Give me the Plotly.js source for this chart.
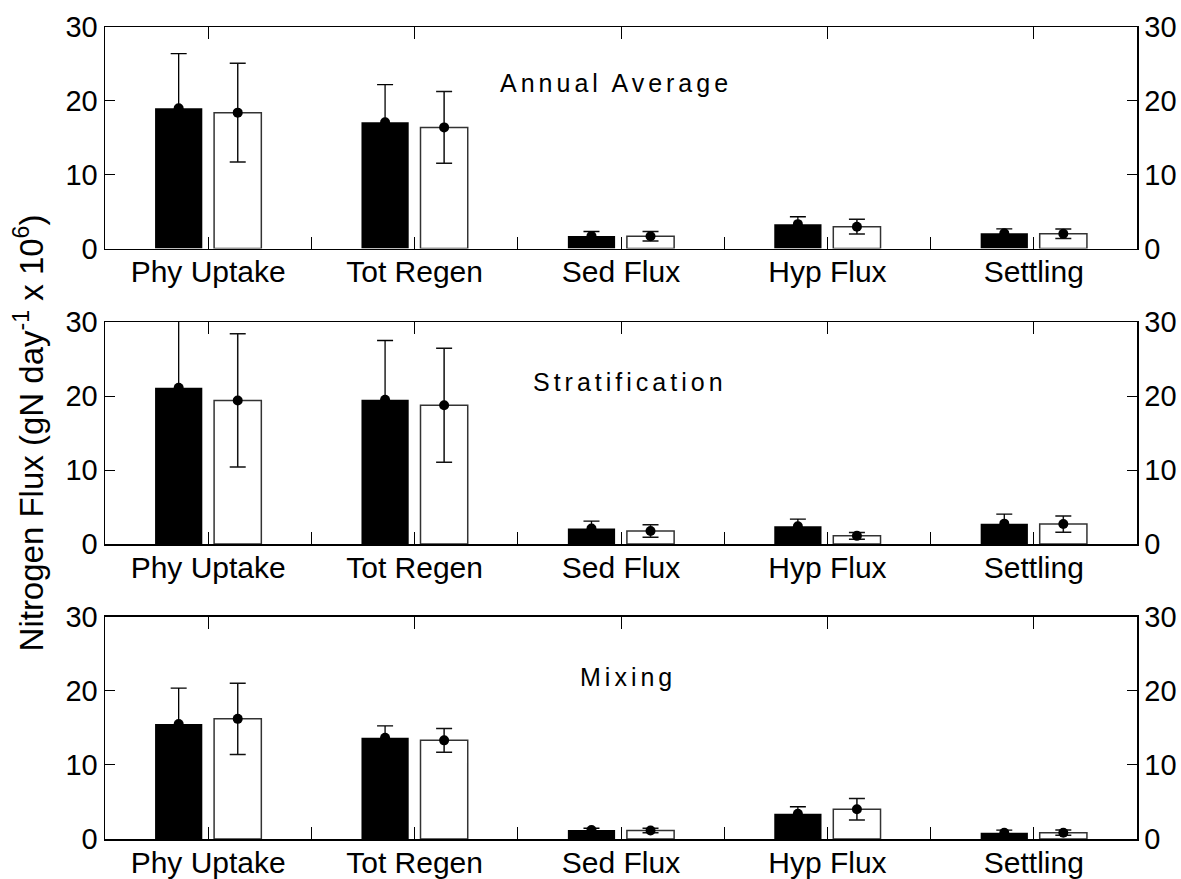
<!DOCTYPE html>
<html>
<head>
<meta charset="utf-8">
<script src="https://cdn.plot.ly/plotly-3.0.1.min.js"></script>
<style>
  html, body { margin: 0; padding: 0; background: #fff; }
  #chart { width: 1181px; height: 879px; }
  .annotation-text { letter-spacing: 4px; }
</style>
</head>
<body>
<div id="chart"></div>
<script>
// ---- data ----
const categories = ['Phy Uptake', 'Tot Regen', 'Sed Flux', 'Hyp Flux', 'Settling'];
const panelTitles = ['Annual Average', 'Stratification', 'Mixing'];
const yTickValues = [0, 10, 20, 30];

const annualBlack    = [19.0, 17.1, 1.7, 3.3, 2.05];
const annualBlackErr = [7.4, 5.1, 0.6, 1.0, 0.6];
const annualWhite    = [18.4, 16.4, 1.65, 2.95, 2.0];
const annualWhiteErr = [6.7, 4.85, 0.65, 1.0, 0.65];

const stratBlack     = [21.1, 19.5, 2.1, 2.4, 2.75];
const stratBlackErr  = [9.5, 8.0, 1.0, 0.95, 1.3];
const stratWhite     = [19.4, 18.75, 1.75, 1.1, 2.7];
const stratWhiteErr  = [9.0, 7.7, 0.85, 0.45, 1.1];

const mixBlack       = [15.5, 13.65, 1.2, 3.4, 0.85];
const mixBlackErr    = [4.85, 1.6, 0.25, 0.95, 0.35];
const mixWhite       = [16.2, 13.3, 1.15, 4.0, 0.85];
const mixWhiteErr    = [4.8, 1.6, 0.3, 1.45, 0.35];

const panels = [
  { black: annualBlack, blackErr: annualBlackErr, white: annualWhite, whiteErr: annualWhiteErr },
  { black: stratBlack,  blackErr: stratBlackErr,  white: stratWhite,  whiteErr: stratWhiteErr },
  { black: mixBlack,    blackErr: mixBlackErr,    white: mixWhite,    whiteErr: mixWhiteErr }
];

// ---- layout geometry ----
const W = 1181, H = 879;
const margin = { l: 105, r: 44, t: 27, b: 40 };
const plotH = H - margin.t - margin.b;
const panelPx = [[27, 248.5], [322, 544], [616.5, 839]];
const labelPos = [[616, 83], [630, 382], [628, 677]];
const plotW = W - margin.l - margin.r;

const FONT = 'Liberation Sans, Arial, Helvetica, sans-serif';
const traces = [];
const layout = {
  width: W, height: H,
  margin: margin,
  paper_bgcolor: '#fff', plot_bgcolor: '#fff',
  showlegend: false,
  barmode: 'group',
  bargap: 0.428,
  bargroupgap: 0.2,
  scattermode: 'group',
  scattergap: 0.428,
  font: { family: FONT, color: '#000' },
  annotations: []
};

panels.forEach((p, i) => {
  const n = 2 * i + 1;           // main x / left y index
  const xm = n === 1 ? 'x' : 'x' + n;
  const xo = 'x' + (n + 1);
  const yl = n === 1 ? 'y' : 'y' + n;
  const yr = 'y' + (n + 1);
  const keyX = n === 1 ? 'xaxis' : 'xaxis' + n;
  const keyXo = 'xaxis' + (n + 1);
  const keyY = n === 1 ? 'yaxis' : 'yaxis' + n;
  const keyYr = 'yaxis' + (n + 1);
  const dom = [(H - margin.b - panelPx[i][1]) / plotH, (H - margin.b - panelPx[i][0]) / plotH];

  traces.push({
    type: 'bar', x: categories, y: p.black, xaxis: xm, yaxis: yl,
    offsetgroup: 'a', marker: { color: '#000', line: { color: '#000', width: 0 } },
    hoverinfo: 'skip'
  });
  traces.push({
    type: 'bar', x: categories, y: p.white, xaxis: xm, yaxis: yl,
    offsetgroup: 'b', marker: { color: '#fff', line: { color: '#333', width: 1.5 } },
    hoverinfo: 'skip'
  });
  traces.push({
    type: 'scatter', mode: 'markers', x: categories, y: p.black, xaxis: xo, yaxis: yr,
    offsetgroup: 'a', marker: { color: '#000', size: 10 },
    error_y: { type: 'data', array: p.blackErr, color: '#000', thickness: 1.3, width: 8 },
    hoverinfo: 'skip'
  });
  traces.push({
    type: 'scatter', mode: 'markers', x: categories, y: p.white, xaxis: xo, yaxis: yr,
    offsetgroup: 'b', marker: { color: '#000', size: 10 },
    error_y: { type: 'data', array: p.whiteErr, color: '#111', thickness: 1.5, width: 8 },
    hoverinfo: 'skip'
  });

  layout[keyX] = {
    domain: [0, 1], anchor: yl, type: 'category',
    categoryorder: 'array', categoryarray: categories, range: [-0.5, 4.5],
    showline: true, linecolor: '#000', linewidth: 1.5, mirror: 'ticks',
    ticks: 'inside', ticklen: 12, tickwidth: 1, tickcolor: '#000',
    ticklabelstandoff: -4,
    showgrid: false, zeroline: false, fixedrange: true,
    tickfont: { family: FONT, size: 30, color: '#000' }
  };
  layout[keyXo] = {
    overlaying: xm, anchor: yl, type: 'category',
    categoryorder: 'array', categoryarray: categories, range: [-0.5, 4.5],
    tickson: 'boundaries', ticks: 'inside', ticklen: 12, tickwidth: 1, tickcolor: '#000',
    showticklabels: false, showline: false, showgrid: false, zeroline: false, fixedrange: true
  };
  const yBase = {
    domain: dom, range: [0, 30], tickmode: 'array', tickvals: yTickValues,
    showline: true, linecolor: '#000', linewidth: 1.5,
    ticks: 'inside', ticklen: 10, tickwidth: 1, tickcolor: '#000',
    showgrid: false, zeroline: false, fixedrange: true,
    tickfont: { family: FONT, size: 29, color: '#000' }
  };
  layout[keyY] = Object.assign({}, yBase, { anchor: xm, side: 'left' });
  layout[keyYr] = Object.assign({}, yBase, { anchor: xm, side: 'right', overlaying: yl });

  if (i === 1) {
    layout[keyY].title = {
      text: 'Nitrogen Flux (gN day<sup>-1</sup> x 10<sup>6</sup>)',
      font: { family: FONT, size: 33, color: '#000' },
      standoff: 12
    };
  }

  layout.annotations.push({
    text: panelTitles[i], xref: 'paper', yref: 'paper',
    x: (labelPos[i][0] - margin.l) / plotW,
    y: (H - margin.b - labelPos[i][1]) / plotH,
    xanchor: 'center', yanchor: 'middle', showarrow: false,
    font: { family: FONT, size: 25, color: '#000' }
  });
});

Plotly.newPlot('chart', traces, layout, { displayModeBar: false, staticPlot: true });
</script>
</body>
</html>
